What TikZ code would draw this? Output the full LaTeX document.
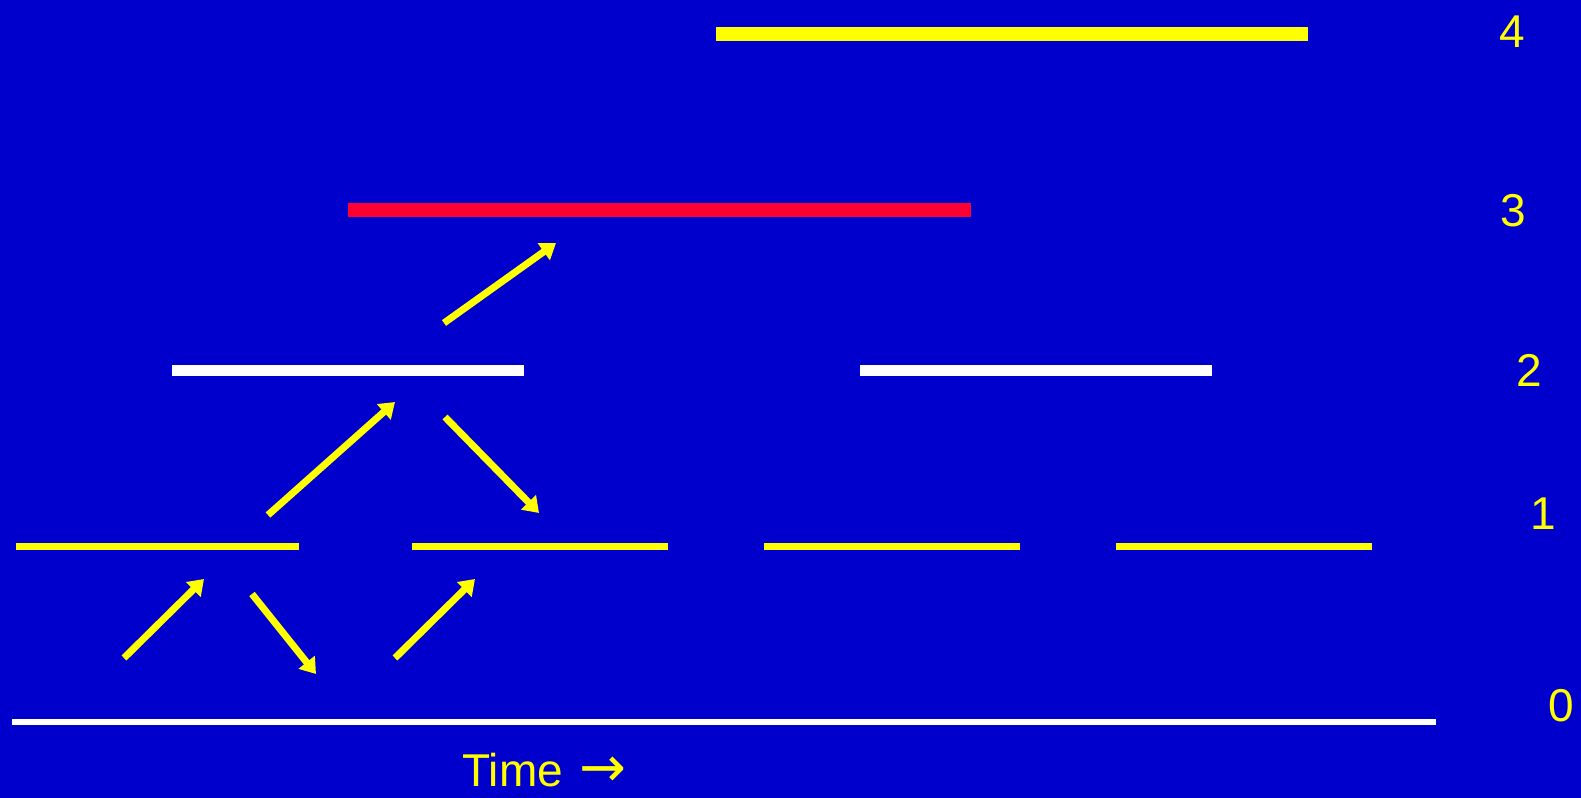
\documentclass[tikz,border=0pt]{standalone}
\usepackage{fontspec}
\setmainfont{Liberation Sans}
\newfontfamily\arrowfont{DejaVu Sans}
\usetikzlibrary{arrows.meta}
\definecolor{slideblue}{RGB}{0,0,204}
\definecolor{slideyellow}{RGB}{255,255,0}
\definecolor{slidered}{RGB}{255,0,51}

\begin{document}
\begin{tikzpicture}[x=0.5pt, y=-0.5pt,
    bar/.style={line cap=butt},
    hop/.style={slideyellow, line width=3.5pt, line cap=butt,
                -{Triangle[length=7.5pt, width=10pt]}},
    lvl/.style={font=\fontsize{23}{27}\selectfont, text=slideyellow, inner sep=0pt}]
    % background
    \fill[slideblue] (0,0) rectangle (1581,798);
    % level 0
    \draw[bar, white, line width=3pt] (12,722) -- (1436,722);
    % level 1
    \foreach \xa/\xb in {16/299, 412/668, 764/1020, 1116/1372}
        \draw[bar, slideyellow, line width=3.5pt] (\xa,546) -- (\xb,546);
    % level 2
    \draw[bar, white, line width=5.5pt] (172,370) -- (524,370);
    \draw[bar, white, line width=5.5pt] (860,370) -- (1212,370);
    % level 3
    \draw[bar, slidered, line width=7pt] (348,210) -- (971,210);
    % level 4
    \draw[bar, slideyellow, line width=7pt] (716,34) -- (1308,34);
    % level numbers
    \node[lvl] (l4) at (1512,32) {4};
    \node[lvl] (l3) at (1513,211) {3};
    \node[lvl] (l2) at (1529,370) {2};
    \node[lvl] (l1) at (1543,514) {1};
    \node[lvl] (l0) at (1561,706) {0};
    % merge arrows
    \coordinate (h1a) at (124,658); \coordinate (h1b) at (204,579);
    \coordinate (h2a) at (252,594); \coordinate (h2b) at (316,674);
    \coordinate (h3a) at (395,658); \coordinate (h3b) at (475,579);
    \coordinate (h4a) at (268,515); \coordinate (h4b) at (395,402);
    \coordinate (h5a) at (445,417); \coordinate (h5b) at (539,513);
    \coordinate (h6a) at (444,323); \coordinate (h6b) at (556,243);
    \foreach \i in {1,...,6}
        \draw[hop] (h\i a) -- (h\i b);
    % axis label
    \node[lvl, anchor=base west] (time) at (462,786)
        {Time\hspace{2pt} {\arrowfont\fontsize{28}{32}\selectfont →}};
\end{tikzpicture}
\end{document}
